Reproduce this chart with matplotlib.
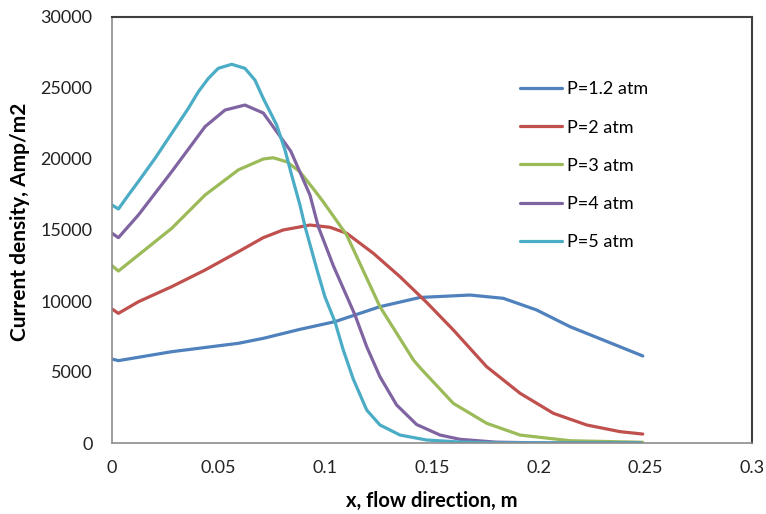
import matplotlib
matplotlib.use("Agg")
import matplotlib.pyplot as plt

plt.rcParams['font.family'] = ['Lato', 'DejaVu Sans']

x_p12 = [0.0, 0.003, 0.028, 0.0592, 0.0709, 0.088, 0.1045, 0.1256, 0.1444, 0.1678, 0.1834, 0.199, 0.2147, 0.2303, 0.2488]
y_p12 = [5910, 5800, 6430, 7020, 7370, 8000, 8545, 9600, 10250, 10420, 10190, 9370, 8190, 7250, 6130]

x_p2 = [0.0, 0.003, 0.0124, 0.028, 0.0436, 0.0592, 0.0709, 0.0802, 0.0928, 0.1022, 0.110, 0.1225, 0.135,
        0.1475, 0.160, 0.1756, 0.1913, 0.2069, 0.2225, 0.2381, 0.2488]
y_p2 = [9440, 9130, 9950, 11010, 12180, 13470, 14460, 15000, 15350, 15190, 14770, 13360, 11710,
        9900, 7960, 5375, 3500, 2090, 1270, 800, 630]

x_p3 = [0.0, 0.003, 0.0124, 0.028, 0.0436, 0.0592, 0.0709, 0.0755, 0.082, 0.088, 0.0944, 0.099, 0.110,
        0.1256, 0.1413, 0.1444, 0.160, 0.1756, 0.1913, 0.2147, 0.2488]
y_p3 = [12490, 12110, 13240, 15120, 17460, 19230, 20000, 20090, 19800, 19110, 17900, 16990, 14650,
        9600, 5845, 5300, 2790, 1390, 560, 160, 50]

x_p4 = [0.0, 0.003, 0.0124, 0.028, 0.0436, 0.053, 0.0623, 0.0709, 0.0838, 0.0928, 0.0967, 0.1037,
        0.1139, 0.1194, 0.1256, 0.1334, 0.1428, 0.1538, 0.1631, 0.180, 0.200, 0.248]
y_p4 = [14770, 14460, 16060, 19110, 22275, 23450, 23800, 23240, 20550, 17460, 15235, 12500,
        9015, 6780, 4670, 2680, 1300, 560, 260, 60, 10, 0]

x_p5 = [0.0, 0.003, 0.0077, 0.0123, 0.0202, 0.028, 0.0358, 0.0405, 0.0452, 0.0498, 0.0561, 0.0623,
        0.067, 0.0709, 0.0772, 0.0811, 0.0842, 0.0881, 0.0905, 0.0959, 0.0998, 0.1045, 0.1084,
        0.1131, 0.1194, 0.1256, 0.135, 0.1475, 0.163, 0.180, 0.248]
y_p5 = [16760, 16480, 17465, 18400, 20050, 21810, 23570, 24740, 25680, 26385, 26670, 26385,
        25560, 24270, 22390, 20630, 18870, 16760, 15235, 12300, 10300, 8545, 6550,
        4500, 2320, 1270, 560, 210, 70, 10, 0]

series = [
    ("P=1.2 atm", x_p12, y_p12, "#4F81BD"),
    ("P=2 atm", x_p2, y_p2, "#C0504D"),
    ("P=3 atm", x_p3, y_p3, "#9BBB59"),
    ("P=4 atm", x_p4, y_p4, "#8064A2"),
    ("P=5 atm", x_p5, y_p5, "#4BACC6"),
]

x_ticks = [0, 0.05, 0.1, 0.15, 0.2, 0.25, 0.3]
x_tick_labels = ["0", "0.05", "0.1", "0.15", "0.2", "0.25", "0.3"]
y_ticks = [0, 5000, 10000, 15000, 20000, 25000, 30000]
y_tick_labels = ["0", "5000", "10000", "15000", "20000", "25000", "30000"]

fig = plt.figure(figsize=(7.66, 5.14), dpi=100)
ax = fig.add_axes([112/766, 71/514, 640/766, 426/514])

for name, xs, ys, c in series:
    ax.plot(xs, ys, color=c, lw=2.3, label=name, solid_capstyle='round', solid_joinstyle='round')

ax.set_xlim(0, 0.3)
ax.set_ylim(0, 30000)
ax.set_xticks(x_ticks)
ax.set_xticklabels(x_tick_labels)
ax.set_yticks(y_ticks)
ax.set_yticklabels(y_tick_labels)
ax.tick_params(length=0, labelsize=13, colors='#222222')
ax.tick_params(axis='x', pad=12)
ax.tick_params(axis='y', pad=14)

for s in ['left', 'bottom']:
    ax.spines[s].set_color('#8c8c8c')
    ax.spines[s].set_linewidth(1.2)
for s in ['top', 'right']:
    ax.spines[s].set_color('#404040')
    ax.spines[s].set_linewidth(1.5)

ax.set_xlabel("x, flow direction, m", fontsize=14.5, fontweight='bold', labelpad=11)
ax.set_ylabel("Current density, Amp/m2", fontsize=15, fontweight='bold')
ax.yaxis.set_label_coords(-0.128, 0.52)

leg = ax.legend(loc='upper left', bbox_to_anchor=(0.6375, 0.849), frameon=False,
                borderpad=0, borderaxespad=0,
                fontsize=13, handlelength=2.33, handletextpad=0.3, labelspacing=1.23)

fig.savefig("out.png", dpi=100)
